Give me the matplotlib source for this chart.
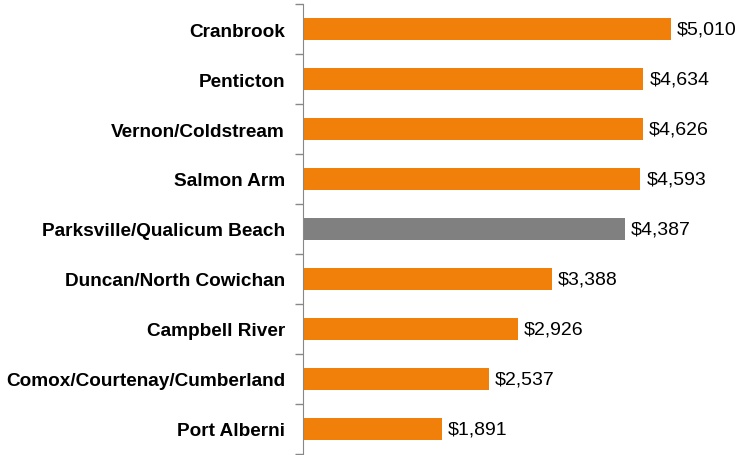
import matplotlib.pyplot as plt

cities = ['Cranbrook', 'Penticton', 'Vernon/Coldstream', 'Salmon Arm',
          'Parksville/Qualicum Beach', 'Duncan/North Cowichan', 'Campbell River',
          'Comox/Courtenay/Cumberland', 'Port Alberni']
values = [5010, 4634, 4626, 4593, 4387, 3388, 2926, 2537, 1891]
highlight = 'Parksville/Qualicum Beach'

plt.rcParams['font.family'] = ['Liberation Sans', 'DejaVu Sans']

fig = plt.figure(figsize=(7.36, 4.56), dpi=100)
ax = fig.add_axes([303 / 736, 1 / 456, 1 - 303 / 736, 450 / 456])

colors = ['#808080' if c == highlight else '#F0800A' for c in cities]
ypos = list(range(len(cities)))
ax.barh(ypos, values, height=0.44, color=colors)

for y, v in zip(ypos, values):
    ax.text(v + 80, y, f'${v:,}', va='center', ha='left', fontsize=14)

ax.set_xlim(0, 5895)
ax.set_ylim(len(cities) - 0.5, -0.5)
ax.set_yticks(ypos)
ax.set_yticklabels(cities, fontsize=13.7, fontweight='bold')
ax.set_yticks([i - 0.5 for i in range(len(cities) + 1)], minor=True)
ax.tick_params(axis='y', which='major', length=0, pad=13)
ax.tick_params(axis='y', which='minor', length=6, color='#888888', width=1)
ax.set_xticks([])
for s in ['top', 'right', 'bottom']:
    ax.spines[s].set_visible(False)
ax.spines['left'].set_color('#888888')

fig.savefig('out.png', dpi=100)
